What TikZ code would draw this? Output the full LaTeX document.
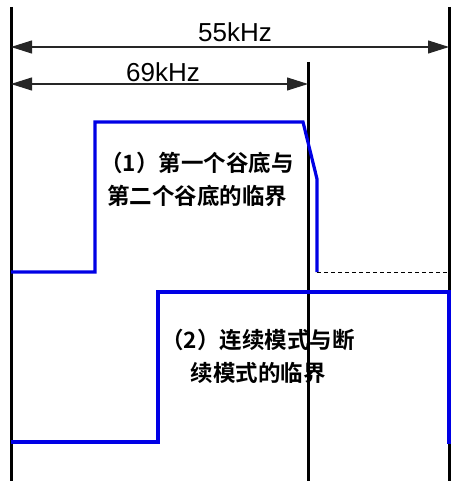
\documentclass[tikz,border=0pt]{standalone}
\usepackage{fontspec}
\setmainfont{Liberation Sans}
\newfontfamily\cjk{Noto Sans CJK SC}[BoldFont={Noto Sans CJK SC Bold}]
\usetikzlibrary{arrows.meta}
\begin{document}
\begin{tikzpicture}[x=1pt,y=-1pt,
  vline/.style={line width=3pt,black},
  wave/.style={line width=3.2pt,blue!90!black,line join=miter},
  dim/.style={line width=1.1pt,black!85,{Triangle[length=21pt,width=13pt]}-{Triangle[length=21pt,width=13pt]}},
  lbl/.style={font=\fontsize{26}{28}\selectfont},
  cn/.style={font=\cjk\bfseries\fontsize{22.5}{33}\selectfont,align=center,inner sep=0pt}]
\useasboundingbox (0,0) rectangle (452,481);
% vertical reference lines
\coordinate (L0) at (11,7);   \coordinate (L1) at (11,481);
\coordinate (R0) at (449,7);  \coordinate (R1) at (449,481);
\coordinate (M0) at (308,62); \coordinate (M1) at (308,481);
\draw[vline] (L0) -- (L1);
\draw[vline] (R0) -- (R1);
\draw[vline] (M0) -- (M1);
% dimension arrows
\coordinate (a1) at (11,47); \coordinate (a2) at (449,47);
\coordinate (b1) at (11,84); \coordinate (b2) at (308,84);
\draw[dim] (a1) -- (a2);
\draw[dim] (b1) -- (b2);
\node[lbl] (f55) at (235,32) {55kHz};
\node[lbl] (f69) at (163,72) {69kHz};
% waveform 1
\draw[wave] (11,272) -- (95,272) -- (95,122) -- (303,122) -- (317,179) -- (317,272);
\coordinate (d1) at (317,272); \coordinate (d2) at (449,272);
\draw[dashed,line width=0.8pt,dash pattern=on 4pt off 3pt] (d1) -- (d2);
% waveform 2
\draw[wave] (11,442) -- (158,442) -- (158,292) -- (449,292) -- (449,444);
% labels
\node[cn] (t1) at (197,179) {（1）第一个谷底与\\第二个谷底的临界};
\node[cn] (t2) at (258,356) {（2）连续模式与断\\续模式的临界};
\end{tikzpicture}
\end{document}
